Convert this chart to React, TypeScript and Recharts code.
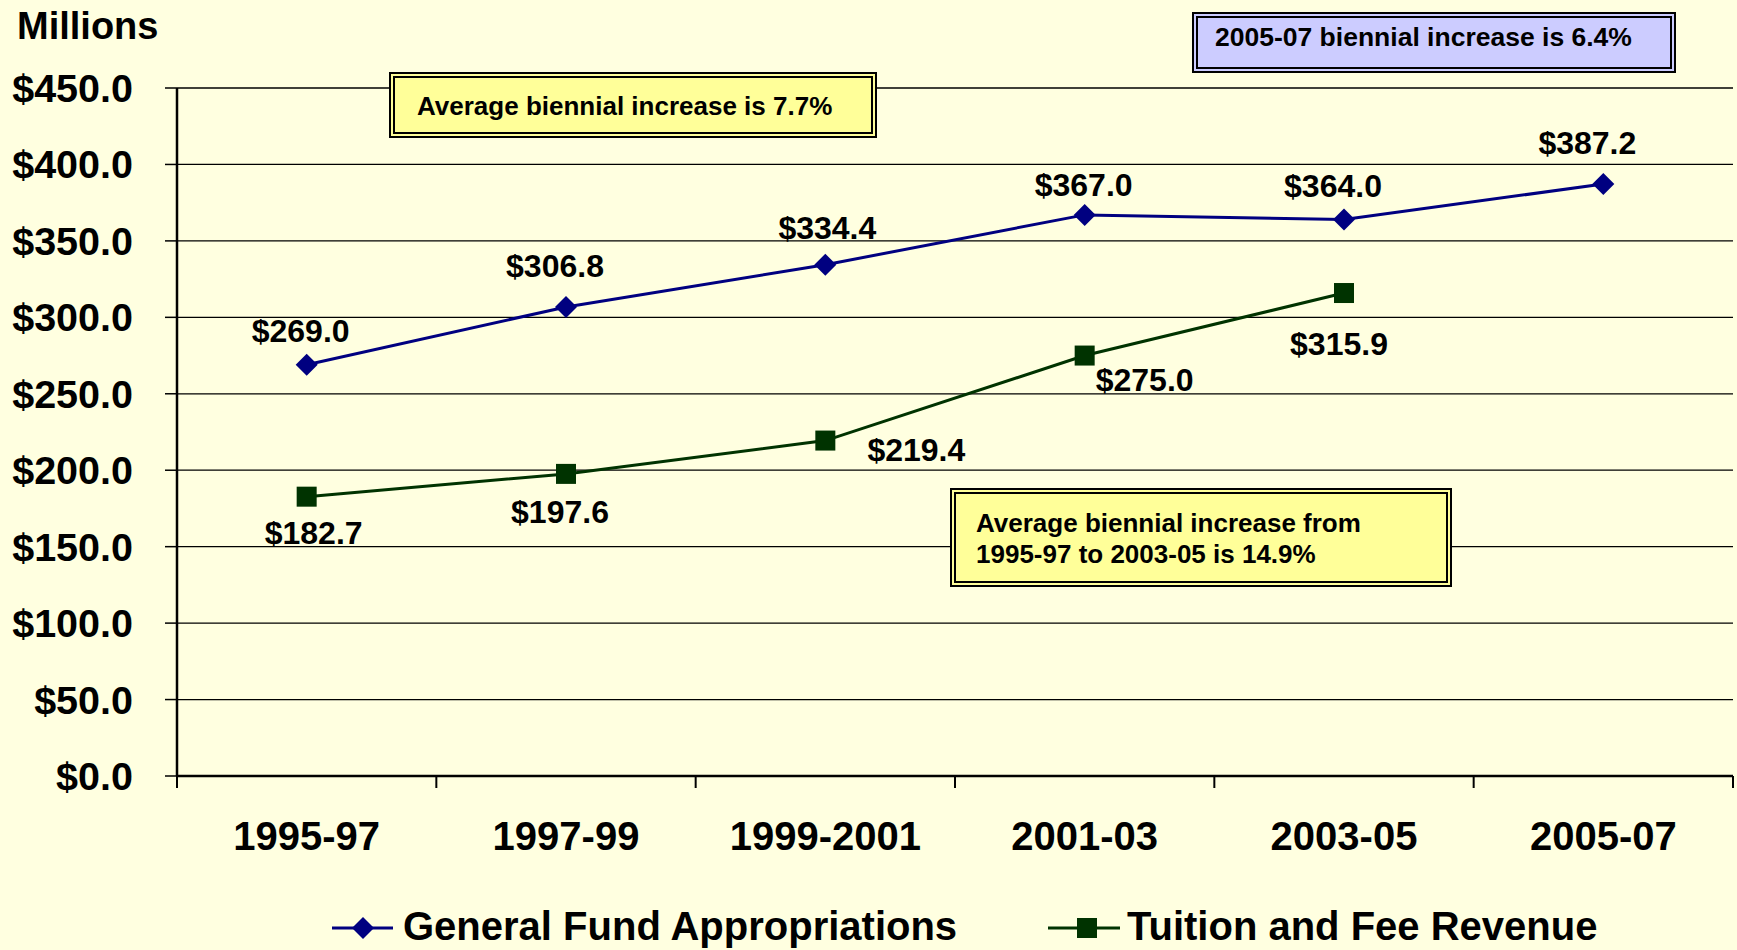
import React from "react";
import {
  LineChart,
  Line,
  XAxis,
  YAxis,
  CartesianGrid,
  LabelList,
  Legend,
} from "recharts";

// values (millions of dollars)
const periods = ["1995-97", "1997-99", "1999-2001", "2001-03", "2003-05", "2005-07"];
const generalFund = [269.0, 306.8, 334.4, 367.0, 364.0, 387.2];
const tuitionFees = [182.7, 197.6, 219.4, 275.0, 315.9, null];
const yTicks = [0, 50, 100, 150, 200, 250, 300, 350, 400, 450];

// hand-placed label nudges (dx, dy from the point)
const gfLabelShift = [
  [-6, -23],
  [-11, -30],
  [2, -26],
  [-1, -19],
  [-11, -22],
  [-16, -30],
];
const tfLabelShift = [
  [7, 47],
  [-6, 49],
  [91, 20],
  [60, 35],
  [-5, 62],
];

const data = periods.map((p, i) => ({
  period: p,
  gf: generalFund[i],
  tf: tuitionFees[i],
}));

const FONT = '"Liberation Sans", Arial, Helvetica, sans-serif';
const NAVY = "#000080";
const GREEN = "#003300";
const BG = "#FFFFE0";

const PLOT_W = 1737 - 177 - 4;
const HALF_BAND = PLOT_W / periods.length / 2;

const Diamond = (props: any) => {
  const { cx, cy } = props;
  if (cx == null || cy == null) return <g />;
  return (
    <path
      d={`M${cx},${cy - 11} L${cx + 11},${cy} L${cx},${cy + 11} L${cx - 11},${cy} Z`}
      fill={NAVY}
    />
  );
};

const Square = (props: any) => {
  const { cx, cy } = props;
  if (cx == null || cy == null) return <g />;
  return <rect x={cx - 10} y={cy - 10} width={20} height={20} fill={GREEN} />;
};

const makeLabel = (shift: number[][]) => (props: any) => {
  const { x, y, value, index } = props;
  if (value == null || x == null || y == null) return null;
  const [dx, dy] = shift[index] || [0, 0];
  return (
    <text
      x={x + dx}
      y={y + dy}
      textAnchor="middle"
      fill="#000"
      fontSize={32}
      fontWeight={700}
      fontFamily={FONT}
    >
      ${Number(value).toFixed(1)}
    </text>
  );
};

// category label plus the Excel-style tick marks between categories
const XTick = (props: any) => {
  const { x, y, payload, index } = props;
  return (
    <g>
      <line
        x1={x - HALF_BAND}
        y1={y}
        x2={x - HALF_BAND}
        y2={y + 12}
        stroke="#000"
        strokeWidth={2}
      />
      {index === periods.length - 1 && (
        <line
          x1={x + HALF_BAND}
          y1={y}
          x2={x + HALF_BAND}
          y2={y + 12}
          stroke="#000"
          strokeWidth={2}
        />
      )}
      <text
        x={x}
        y={y + 74}
        textAnchor="middle"
        fill="#000"
        fontSize={40}
        fontWeight={700}
        fontFamily={FONT}
      >
        {payload.value}
      </text>
    </g>
  );
};

const renderLegend = () => (
  <svg width={1737} height={57} style={{ display: "block" }}>
    <line x1={332} y1={35} x2={393} y2={35} stroke={NAVY} strokeWidth={3} />
    <path d="M363,24 L374,35 L363,46 L352,35 Z" fill={NAVY} />
    <text x={403} y={47} fontSize={40} fontWeight={700} fontFamily={FONT} fill="#000">
      General Fund Appropriations
    </text>
    <line x1={1048} y1={35} x2={1120} y2={35} stroke={GREEN} strokeWidth={3} />
    <rect x={1077} y={25} width={20} height={20} fill={GREEN} />
    <text x={1127} y={47} fontSize={40} fontWeight={700} fontFamily={FONT} fill="#000">
      Tuition and Fee Revenue
    </text>
  </svg>
);

const boxBase: React.CSSProperties = {
  position: "absolute",
  boxSizing: "border-box",
  border: "6px double #000",
  fontFamily: FONT,
  fontWeight: 700,
  fontSize: 26,
  color: "#000",
  whiteSpace: "nowrap",
};

export default function App() {
  return (
    <div
      style={{
        position: "absolute",
        left: 0,
        top: 0,
        width: 1737,
        height: 950,
        background: BG,
        overflow: "hidden",
        fontFamily: FONT,
      }}
    >
      <LineChart
        width={1737}
        height={950}
        data={data}
        margin={{ top: 88, right: 4, left: 0, bottom: 0 }}
      >
        <CartesianGrid vertical={false} stroke="#000" strokeWidth={1.3} />
        <XAxis
          dataKey="period"
          height={174}
          interval={0}
          padding={{ left: HALF_BAND, right: HALF_BAND }}
          tickSize={0}
          tickMargin={0}
          tickLine={false}
          axisLine={{ stroke: "#000", strokeWidth: 2.5 }}
          tick={<XTick />}
        />
        <YAxis
          domain={[0, 450]}
          ticks={yTicks}
          interval={0}
          width={177}
          tickSize={12}
          tickMargin={32}
          axisLine={{ stroke: "#000", strokeWidth: 2.5 }}
          tickLine={{ stroke: "#000", strokeWidth: 1.5 }}
          tick={{ fill: "#000", fontSize: 39.5, fontWeight: 700, fontFamily: FONT }}
          tickFormatter={(v: number) => `$${v.toFixed(1)}`}
        />
        <YAxis
          yAxisId="right"
          orientation="right"
          domain={[0, 450]}
          width={0}
          tick={false}
          tickLine={false}
          axisLine={{ stroke: "#000", strokeWidth: 2 }}
        />
        <Legend
          layout="horizontal"
          verticalAlign="middle"
          align="center"
          content={renderLegend}
          wrapperStyle={{ top: 893, left: 0, width: 1737, height: 57 }}
        />
        <Line
          dataKey="gf"
          name="General Fund Appropriations"
          stroke={NAVY}
          strokeWidth={3}
          dot={<Diamond />}
          activeDot={false}
          isAnimationActive={false}
        >
          <LabelList dataKey="gf" content={makeLabel(gfLabelShift)} />
        </Line>
        <Line
          dataKey="tf"
          name="Tuition and Fee Revenue"
          stroke={GREEN}
          strokeWidth={3}
          dot={<Square />}
          activeDot={false}
          isAnimationActive={false}
        >
          <LabelList dataKey="tf" content={makeLabel(tfLabelShift)} />
        </Line>
      </LineChart>

      <div
        style={{
          position: "absolute",
          left: 17,
          top: 5,
          fontSize: 38,
          fontWeight: 700,
          color: "#000",
        }}
      >
        Millions
      </div>

      <div
        style={{
          ...boxBase,
          left: 389,
          top: 72,
          width: 488,
          height: 66,
          background: "#FFFF99",
          lineHeight: "54px",
          paddingLeft: 22,
          paddingTop: 1,
        }}
      >
        Average biennial increase is 7.7%
      </div>

      <div
        style={{
          ...boxBase,
          left: 1192,
          top: 12,
          width: 484,
          height: 61,
          background: "#CCCCFF",
          fontSize: 26.5,
          lineHeight: "33px",
          paddingLeft: 17,
          paddingTop: 3,
        }}
      >
        2005-07 biennial increase is 6.4%
      </div>

      <div
        style={{
          ...boxBase,
          left: 950,
          top: 488,
          width: 502,
          height: 99,
          background: "#FFFF99",
          lineHeight: "31px",
          paddingLeft: 20,
          paddingTop: 14,
        }}
      >
        Average biennial increase from
        <br />
        1995-97 to 2003-05 is 14.9%
      </div>
    </div>
  );
}
